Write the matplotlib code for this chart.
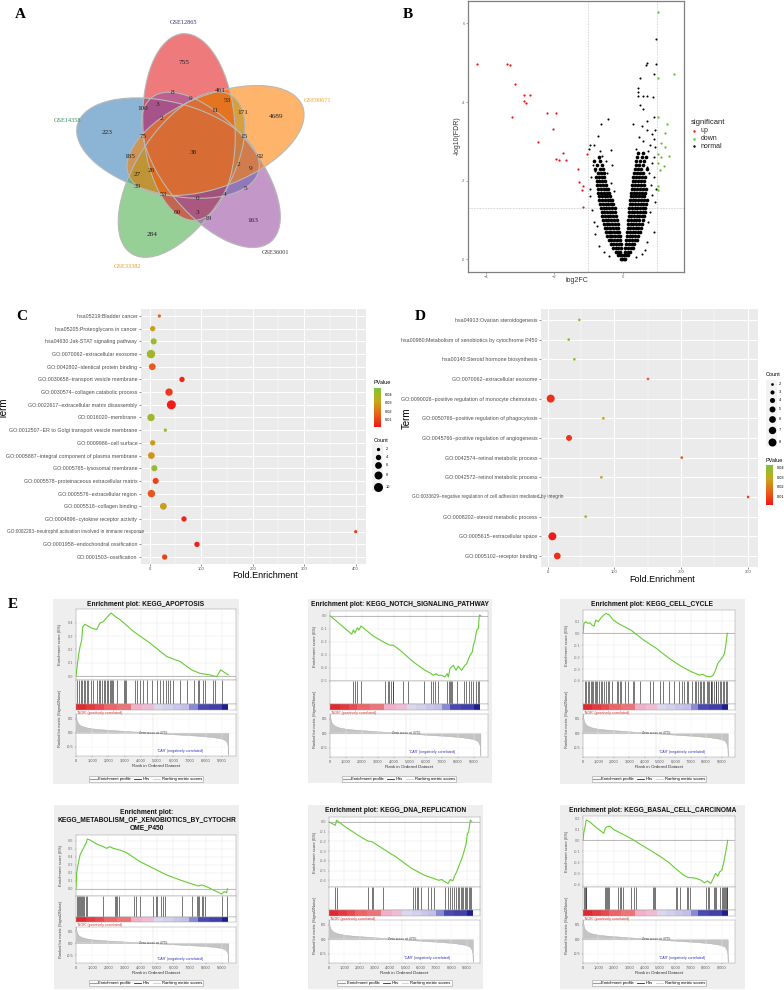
import matplotlib.pyplot as plt
import numpy as np
from matplotlib.patches import Ellipse, Rectangle
from matplotlib.colors import LinearSegmentedColormap, Normalize
from matplotlib.cm import ScalarMappable
from matplotlib.lines import Line2D
from matplotlib.transforms import Bbox, TransformedBbox, blended_transform_factory

plt.rcParams['font.family'] = ['Liberation Sans', 'DejaVu Sans']
SERIF = 'Liberation Serif'

# ---------------- A: venn ----------------
venn_names = ['GSE12865', 'GSE99671', 'GSE36001', 'GSE33382', 'GSE14358']
venn_colors = ['#E41A1C', '#FF7F00', '#984EA3', '#4DAF4A', '#377EB8']
venn_name_colors = ['#2B2B6B', '#F0A020', '#333333', '#E89A2A', '#2E8B57']
venn_counts = [755, 461, 8, 9, 53, 3, 100, 11, 171, 4689, 2, 223, 75, 15, 38,
               185, 92, 2, 27, 26, 9, 39, 5, 53, 0, 4, 60, 3, 19, 163, 284]
venn_count_xy = [(184, 63), (220, 90), (173, 92), (191, 99), (227, 101), (157, 104),
                 (143, 108), (215, 111), (243, 112), (276, 117), (161, 118), (107, 132),
                 (143, 137), (244, 136), (193, 153), (130, 157), (260, 157), (238, 164),
                 (137, 174), (151, 171), (251, 169), (137, 187), (245, 189), (163, 195),
                 (198, 199), (225, 195), (177, 213), (197, 212), (208, 219), (253, 220),
                 (152, 234)]
venn_name_xy = [(183, 23), (318, 101), (276, 253), (128, 267), (68, 120)]

# ---------------- B: volcano ----------------
up_fc = [-4.26, -3.39, -3.29, -3.14, -2.87, -2.71, -2.87, -2.83, -3.24, -2.22, -1.94, -2.05,
         -2.47, -1.74, -1.95, -1.86, -1.65, -1.30, -1.27, -1.19, -1.16, -1.17, -1.04]
up_fdr = [4.97, 4.97, 4.94, 4.45, 4.19, 4.19, 4.04, 3.97, 3.61, 3.71, 3.72, 3.32,
          2.98, 2.71, 2.55, 2.53, 2.53, 2.29, 1.97, 1.76, 1.87, 1.34, 2.68]
down_fc = [1.04, 1.50, 1.04, 1.02, 1.30, 1.24, 1.12, 1.24, 1.02, 1.35, 1.11, 1.04, 1.22, 1.09, 1.02, 1.02]
down_fdr = [6.28, 4.71, 4.60, 3.63, 3.45, 3.21, 2.97, 2.85, 2.68, 2.62, 2.61, 2.46, 2.38, 2.28, 1.87, 1.76]
normal_fc = [0.97, 0.71, 0.67, 0.97, 0.92, 0.51, 0.45, 0.46, 0.46, 0.58, 0.71, 0.87, 0.51, 0.58,
             0.90, 0.72, 0.30, 0.55, 0.95, 0.70, 0.85, 0.47, 0.92, 0.60, 0.80, 0.93, 0.38, 0.75,
             0.90, 0.85, 0.78, 0.92, 0.82, 0.95, 0.80, 0.75, 0.90, 0.70, 0.65, 0.55, 0.40, 0.85,
             0.70, 0.96,
             -0.64, -0.44, -0.71, -0.96, -0.85, -0.35, -0.98, -0.60, -0.70, -0.50, -0.88, -0.92,
             -0.95, -0.90, -0.85, -0.80, -0.68, -0.55, -0.40, -0.75, -0.95, -0.45, -0.35, -0.65,
             -0.30, -0.26, -0.82]
normal_fdr = [5.60, 4.99, 4.94, 4.97, 4.71, 4.61, 4.35, 4.25, 4.16, 4.16, 4.16, 4.14, 3.93, 3.82,
              3.63, 3.52, 3.45, 3.40, 3.30, 3.30, 3.20, 3.10, 3.05, 3.00, 2.90, 2.85, 2.80, 2.75,
              2.60, 2.45, 2.20, 2.10, 1.90, 1.45, 1.20, 0.95, 0.70, 0.45, 0.25, 0.15, 0.05, 1.65,
              2.35, 1.80,
              3.44, 3.58, 3.13, 2.90, 2.90, 2.79, 2.80, 2.62, 2.58, 2.50, 2.40, 2.10,
              1.60, 1.25, 0.95, 0.65, 0.35, 0.20, 0.08, 0.85, 1.80, 2.20, 1.95, 2.75,
              2.40, 1.75, 2.25]
# dense core of the "normal" genes, row by row
cloud_levels = [0.0, 0.1, 0.2, 0.3, 0.4, 0.5, 0.6, 0.7, 0.8, 0.9, 1.0, 1.1, 1.2, 1.3, 1.4,
                1.5, 1.6, 1.7, 1.8, 1.9, 2.0, 2.1, 2.2, 2.3, 2.4, 2.5, 2.6, 2.7]
cloud_left = [[-0.06, -0.02], [-0.14, -0.08, -0.03], [-0.21, -0.14, -0.07],
              [-0.29, -0.21, -0.13, -0.06], [-0.35, -0.27, -0.19, -0.11, -0.06],
              [-0.41, -0.33, -0.25, -0.17, -0.09], [-0.46, -0.38, -0.30, -0.22, -0.14, -0.08],
              [-0.49, -0.41, -0.33, -0.25, -0.17, -0.10], [-0.53, -0.45, -0.37, -0.29, -0.21, -0.13],
              [-0.55, -0.47, -0.39, -0.31, -0.23, -0.15], [-0.58, -0.50, -0.42, -0.34, -0.26, -0.18],
              [-0.60, -0.52, -0.44, -0.36, -0.28, -0.20], [-0.62, -0.54, -0.46, -0.38, -0.30, -0.22],
              [-0.64, -0.56, -0.48, -0.40, -0.32, -0.24], [-0.66, -0.58, -0.50, -0.42, -0.34, -0.27],
              [-0.68, -0.60, -0.52, -0.44, -0.36, -0.30], [-0.70, -0.61, -0.53, -0.45, -0.37],
              [-0.71, -0.63, -0.55, -0.47, -0.40], [-0.73, -0.64, -0.56, -0.48, -0.42],
              [-0.74, -0.66, -0.58, -0.50], [-0.76, -0.68, -0.60, -0.52], [-0.78, -0.70, -0.62, -0.55],
              [-0.72, -0.64, -0.56], [-0.80, -0.66, -0.58], [-0.74, -0.62], [-0.83, -0.66], [-0.70], []]
cloud_right = [[0.03, 0.08], [0.05, 0.11, 0.16], [0.07, 0.14, 0.22], [0.08, 0.16, 0.24, 0.31],
               [0.10, 0.18, 0.26, 0.34], [0.11, 0.19, 0.27, 0.35, 0.42], [0.12, 0.20, 0.28, 0.36, 0.44],
               [0.13, 0.21, 0.29, 0.37, 0.45, 0.51], [0.14, 0.22, 0.30, 0.38, 0.46, 0.54],
               [0.15, 0.23, 0.31, 0.39, 0.47, 0.56], [0.16, 0.24, 0.32, 0.40, 0.48, 0.58],
               [0.17, 0.25, 0.33, 0.41, 0.49, 0.57, 0.62], [0.18, 0.26, 0.34, 0.42, 0.50, 0.58, 0.64],
               [0.19, 0.27, 0.35, 0.43, 0.51, 0.59, 0.66], [0.20, 0.28, 0.36, 0.44, 0.52, 0.60, 0.68],
               [0.21, 0.29, 0.37, 0.45, 0.53, 0.61, 0.70], [0.23, 0.31, 0.39, 0.47, 0.55, 0.63],
               [0.24, 0.32, 0.40, 0.48, 0.56, 0.65], [0.26, 0.34, 0.42, 0.50, 0.58, 0.68],
               [0.28, 0.36, 0.44, 0.52, 0.61], [0.29, 0.37, 0.45, 0.53, 0.63],
               [0.31, 0.39, 0.47, 0.56, 0.66], [0.33, 0.42, 0.50, 0.60], [0.35, 0.44, 0.53, 0.70],
               [0.38, 0.47, 0.58], [0.40, 0.50, 0.62], [0.42, 0.55, 0.68], [0.45, 0.60]]

# ---------------- C / D: enrichment bubbles ----------------
c_terms = ['hsa05219:Bladder cancer', 'hsa05205:Proteoglycans in cancer',
           'hsa04630:Jak-STAT signaling pathway', 'GO:0070062~extracellular exosome',
           'GO:0042802~identical protein binding', 'GO:0030658~transport vesicle membrane',
           'GO:0030574~collagen catabolic process', 'GO:0022617~extracellular matrix disassembly',
           'GO:0016020~membrane', 'GO:0012507~ER to Golgi transport vesicle membrane',
           'GO:0009986~cell surface', 'GO:0005887~integral component of plasma membrane',
           'GO:0005765~lysosomal membrane', 'GO:0005578~proteinaceous extracellular matrix',
           'GO:0005576~extracellular region', 'GO:0005518~collagen binding',
           'GO:0004896~cytokine receptor activity',
           'GO:0002283~neutrophil activation involved in immune response',
           'GO:0001958~endochondral ossification', 'GO:0001503~ossification']
c_fold = [18.7, 5.8, 7.7, 2.5, 5.0, 62.7, 37.5, 42.0, 2.5, 30.4, 5.8, 3.2, 9.0, 11.6, 3.2,
          26.5, 66.6, 400.0, 91.8, 29.0]
c_count = [2, 4, 5, 9, 6, 4, 7, 10, 7, 2, 4, 6, 5, 5, 7, 6, 4, 2, 4, 4]
c_pval = [0.018, 0.030, 0.042, 0.040, 0.015, 0.004, 0.008, 0.002, 0.041, 0.044, 0.030, 0.028,
          0.042, 0.010, 0.014, 0.030, 0.004, 0.010, 0.003, 0.010]

d_terms = ['hsa04913:Ovarian steroidogenesis',
           'hsa00980:Metabolism of xenobiotics by cytochrome P450',
           'hsa00140:Steroid hormone biosynthesis', 'GO:0070062~extracellular exosome',
           'GO:0090026~positive regulation of monocyte chemotaxis',
           'GO:0050766~positive regulation of phagocytosis',
           'GO:0045766~positive regulation of angiogenesis', 'GO:0042574~retinal metabolic process',
           'GO:0042572~retinol metabolic process',
           'GO:0033629~negative regulation of cell adhesion mediated by integrin',
           'GO:0008202~steroid metabolic process', 'GO:0005615~extracellular space',
           'GO:0005102~receptor binding']
d_fold = [47.5, 31.5, 40.0, 150.4, 4.5, 83.5, 32.0, 201.0, 80.5, 300.5, 57.0, 7.0, 14.4]
d_count = [2, 2, 2, 2, 8, 2, 5, 2, 2, 2, 2, 8, 6]
d_pval = [0.040, 0.041, 0.040, 0.015, 0.006, 0.027, 0.007, 0.012, 0.028, 0.009, 0.039, 0.002, 0.005]

# ---------------- E: GSEA ----------------
gsea_titles = [['Enrichment plot: KEGG_APOPTOSIS'],
               ['Enrichment plot: KEGG_NOTCH_SIGNALING_PATHWAY'],
               ['Enrichment plot: KEGG_CELL_CYCLE'],
               ['Enrichment plot:', 'KEGG_METABOLISM_OF_XENOBIOTICS_BY_CYTOCHR', 'OME_P450'],
               ['Enrichment plot: KEGG_DNA_REPLICATION'],
               ['Enrichment plot: KEGG_BASAL_CELL_CARCINOMA']]
apop_rank = [0, 144, 247, 350, 412, 556, 761, 967, 1276, 1481, 1687, 1893, 2160, 2407, 2716,
             3539, 4568, 5597, 6420, 7140, 7654, 8272, 8683, 8930, 9403]
apop_es = [0.0, 0.147, 0.22, 0.27, 0.37, 0.39, 0.375, 0.36, 0.35, 0.40, 0.41, 0.44, 0.475, 0.45,
           0.425, 0.337, 0.248, 0.147, 0.109, 0.046, 0.02, 0.008, -0.005, 0.046, 0.008]
apop_hits = [82, 206, 288, 391, 494, 556, 700, 761, 905, 1029, 1276, 1399, 1481, 1584, 1728,
             1811, 1893, 1996, 2099, 2160, 2202, 2305, 2510, 2963, 3025, 3086, 3642, 3745, 3951,
             4156, 4362, 4671, 4979, 5185, 5391, 5556, 5658, 5802, 6008, 6420, 6831, 7305, 7551,
             7613, 7860, 7963, 8477, 8601, 8992]
notch_rank = [0, 1354, 1458, 1563, 1708, 1813, 1938, 2708, 3396, 3542, 3750, 3958, 4375, 5208,
              5938, 6250, 6458, 6625, 6771, 6979, 7188, 7333, 7396, 7500, 7708, 7875, 8021, 8229,
              8438, 8542, 8750, 8896, 8958, 9063, 9167, 9271, 9333, 9417]
notch_es = [0.0, -0.141, -0.11, -0.131, -0.092, -0.11, -0.079, -0.156, -0.205, -0.213, -0.226,
            -0.226, -0.264, -0.354, -0.418, -0.438, -0.456, -0.444, -0.456, -0.456, -0.469,
            -0.444, -0.469, -0.405, -0.379, -0.418, -0.387, -0.418, -0.379, -0.367, -0.303,
            -0.277, -0.226, -0.187, -0.11, -0.097, 0.005, 0.0]
notch_hits = [1414, 1559, 1705, 1933, 3451, 3617, 3701, 3784, 3909, 3950, 4574, 4886, 5884,
              6341, 6445, 6590, 6757, 7339, 7443, 7526, 7568, 7651, 7942, 8358, 8482, 8690,
              8794, 8940, 9106, 9231, 9293]
cycle_rank = [0, 62, 166, 311, 456, 581, 726, 830, 996, 1141, 1349, 1494, 1701, 1971, 2282,
              2697, 3112, 3942, 4772, 5602, 6432, 7054, 7573, 7780, 7988, 8299, 8465, 8610,
              8755, 8921, 9087, 9191, 9274, 9378]
cycle_es = [0.0, 0.083, 0.097, 0.083, 0.088, 0.069, 0.06, 0.111, 0.097, 0.125, 0.153, 0.167,
            0.153, 0.111, 0.083, 0.055, 0.027, -0.057, -0.127, -0.211, -0.281, -0.323, -0.351,
            -0.343, -0.36, -0.365, -0.351, -0.309, -0.253, -0.225, -0.197, -0.169, -0.099, 0.0]
cycle_hits = [104, 207, 311, 373, 519, 581, 664, 788, 871, 934, 1037, 1141, 1245, 1349, 1494,
              1618, 1701, 1867, 2178, 2282, 2386, 2490, 2697, 2905, 3216, 3320, 3734, 4357,
              4564, 4979, 5187, 5602, 5913, 6224, 6432, 6535, 6743, 6846, 7054, 7261, 7365,
              7469, 7573, 7676, 7780, 7884, 8050, 8133, 8195, 8299, 8340, 8402, 8506, 8610,
              8672, 8755, 8880, 8963, 9087, 9170, 9295, 9336]
xeno_rank = [0, 41, 103, 165, 247, 350, 453, 556, 617, 700, 864, 1276, 1687, 1893, 2099, 2305,
             2716, 3128, 3951, 4774, 5597, 6420, 7037, 7551, 7757, 8066, 8477, 8992, 9136, 9300,
             9342]
xeno_es = [0.0, 0.195, 0.277, 0.339, 0.421, 0.463, 0.504, 0.545, 0.566, 0.62, 0.608, 0.558,
           0.525, 0.504, 0.525, 0.504, 0.483, 0.45, 0.339, 0.256, 0.174, 0.112, 0.07, 0.037,
           0.05, 0.029, -0.012, -0.062, -0.033, -0.045, 0.004]
xeno_hits = [41, 103, 165, 247, 309, 370, 453, 514, 597, 700, 1687, 2407, 2469, 2510, 2675,
             3580, 3704, 3951, 4774, 4918, 4979, 5247, 5391, 5494, 6523, 7140, 7449, 7510,
             7613, 7757, 7860, 7963, 8992, 9342]
dna_rank = [0, 413, 496, 1074, 1901, 2521, 2831, 3347, 4380, 5413, 6240, 6860, 7169, 7376,
            7583, 7789, 7934, 8099, 8202, 8347, 8512, 8616, 8760, 8864, 8967, 9050, 9132, 9236,
            9339]
dna_es = [0.0, -0.034, 0.017, -0.051, -0.137, -0.195, -0.205, -0.257, -0.36, -0.479, -0.548,
          -0.582, -0.6, -0.592, -0.616, -0.634, -0.592, -0.606, -0.558, -0.514, -0.445, -0.404,
          -0.342, -0.284, -0.223, -0.12, -0.103, 0.017, 0.007]
dna_hits = [413, 496, 2521, 2789, 2872, 3554, 5517, 5620, 5723, 5826, 6033, 6446, 6653, 6860,
            7583, 7789, 7934, 8058, 8202, 8306, 8409, 8512, 8616, 8678, 8760, 8864, 8967, 9050,
            9132, 9236, 9298]
basal_rank = [0, 62, 145, 207, 415, 934, 1349, 1452, 1556, 1763, 1971, 2386, 2697, 3112, 3734,
              4357, 4979, 5602, 6017, 6535, 6846, 7158, 7365, 7676, 7884, 8091, 8299, 8465,
              8610, 8755, 8880, 9025, 9129, 9232, 9336, 9398]
basal_es = [0.0, 0.079, 0.13, 0.185, 0.17, 0.109, 0.064, 0.109, 0.124, 0.13, 0.1, 0.07, 0.048,
            0.018, -0.036, -0.088, -0.142, -0.203, -0.255, -0.315, -0.336, -0.339, -0.345,
            -0.361, -0.385, -0.367, -0.391, -0.345, -0.3, -0.324, -0.285, -0.27, -0.209,
            -0.133, -0.058, 0.0]
basal_hits = [62, 124, 166, 207, 1452, 1494, 1556, 1618, 1701, 2282, 2386, 2490, 2593, 3112,
              3320, 3423, 4564, 4606, 4668, 6017, 6120, 6328, 6743, 6846, 6950, 7988, 8091,
              8195, 8506, 8548, 8610, 8880, 9025, 9087, 9129, 9232, 9295, 9336, 9378]
gsea_es_ticks = [[0.0, 0.1, 0.2, 0.3, 0.4], [0.0, -0.1, -0.2, -0.3, -0.4, -0.5],
                 [0.1, 0.0, -0.1, -0.2, -0.3, -0.4], [0.0, 0.1, 0.2, 0.3, 0.4, 0.5, 0.6],
                 [0.0, -0.1, -0.2, -0.3, -0.4, -0.5, -0.6], [0.2, 0.1, 0.0, -0.1, -0.2, -0.3, -0.4]]
metric_rank = [0, 20, 60, 150, 300, 600, 1000, 1500, 2000, 3000, 4000, 4755, 5500, 6500, 7500,
               8300, 8900, 9200, 9320, 9380, 9400]
metric_val = [0.68, 0.55, 0.42, 0.33, 0.26, 0.20, 0.16, 0.13, 0.11, 0.07, 0.035, 0.0, -0.03,
              -0.065, -0.10, -0.14, -0.19, -0.25, -0.35, -0.50, -0.78]
zero_cross = 4755
cbar_edges = [0, 600, 1200, 1700, 2500, 3400, 4100, 4800, 5400, 6000, 6500, 7000, 7500, 8200,
              9000, 9400]
cbar_colors = ['#E0282E', '#E23A40', '#E54A50', '#EA6468', '#EC7378', '#F2AFC8', '#F0BCD4',
               '#D9D8EF', '#D2D1EC', '#C9C7E9', '#C2C0E6', '#8A8AD2', '#4A4AAE', '#4040A8',
               '#1E1E8C']

# ================= drawing =================
W, H = 784, 990
fig = plt.figure(figsize=(W / 100, H / 100), dpi=100)


def px_axes(x0, y0, x1, y1, **kw):
    return fig.add_axes([x0 / W, 1 - y1 / H, (x1 - x0) / W, (y1 - y0) / H], **kw)


bg = px_axes(0, 0, W, H, zorder=-10)
bg.set_xlim(0, W); bg.set_ylim(H, 0); bg.axis('off')
ov = px_axes(0, 0, W, H, zorder=10)
ov.set_xlim(0, W); ov.set_ylim(H, 0); ov.axis('off')

for lab, x, y in [('A', 20, 15), ('B', 408, 15), ('C', 22, 316), ('D', 420, 316), ('E', 13, 605)]:
    ov.text(x, y, lab, fontsize=11, fontweight='bold', family=SERIF, ha='center', va='center')

# ---- A
axA = px_axes(0, 0, 400, 280)
axA.set_xlim(0, 400); axA.set_ylim(280, 0); axA.axis('off')
c0 = np.array([193.0, 152.0])
off0 = np.array([-4.0, -25.0])
ang0 = -93.7
order = [4, 3, 0, 2, 1]  # blue, green, red, purple, orange
geo = []
for k in range(5):
    t = np.deg2rad(72 * k)
    rot = np.array([[np.cos(t), -np.sin(t)], [np.sin(t), np.cos(t)]])
    geo.append((c0 + rot @ off0, ang0 + 72 * k))
for k in order:
    cen, ang = geo[k]
    axA.add_patch(Ellipse(cen, 187, 92, angle=ang, facecolor=venn_colors[k], alpha=0.58,
                          edgecolor='none'))
for k in range(5):
    cen, ang = geo[k]
    axA.add_patch(Ellipse(cen, 187, 92, angle=ang, facecolor='none', edgecolor='#B8B8B8', lw=0.8))
for n, (x, y) in zip(venn_counts, venn_count_xy):
    axA.text(x, y, str(n), ha='center', va='center', fontsize=5.2, family=SERIF, color='#222222')
for name, col, (x, y) in zip(venn_names, venn_name_colors, venn_name_xy):
    axA.text(x, y, name, ha='center', va='center', fontsize=4.5, family=SERIF, color=col)

# ---- B
axB = px_axes(468, 1, 684, 272)
cx = [x for xs in cloud_left + cloud_right for x in xs]
cy = [lv for lv, xs in zip(cloud_levels + cloud_levels, cloud_left + cloud_right) for _ in xs]
axB.scatter(cx, cy, s=7, color='black', linewidths=0, zorder=2)
axB.scatter(normal_fc, normal_fdr, s=2.2, color='black', linewidths=0, zorder=2)
axB.scatter(up_fc, up_fdr, s=2.5, color='#F01010', linewidths=0, zorder=3)
axB.scatter(down_fc, down_fdr, s=2.5, color='#55C020', linewidths=0, zorder=3)
for xv in (-1, 1):
    axB.axvline(xv, color='#BBBBBB', lw=0.4, ls=(0, (3, 2)), zorder=1)
axB.axhline(-np.log10(0.05), color='#BBBBBB', lw=0.4, ls=(0, (3, 2)), zorder=1)
axB.set_xlim(-4.52, 1.79); axB.set_ylim(-0.32, 6.57)
axB.set_xticks([-4, -2, 0]); axB.set_yticks([0, 2, 4, 6])
axB.tick_params(labelsize=3, colors='#666666', length=1.5, width=0.4, pad=1)
for sp in axB.spines.values():
    sp.set_color('#7F7F7F'); sp.set_linewidth(0.9)
ov.text(457, 136, '-log10(FDR)', rotation=90, ha='center', va='center', fontsize=5, color='#333333')
ov.text(577, 281, 'log2FC', ha='center', va='center', fontsize=5, color='#333333')
ov.text(691, 122.7, 'significant', ha='left', va='center', fontsize=5.5, color='#222222')
for lab, col, y in [('up', '#F01010', 131), ('down', '#55C020', 138.7), ('normal', 'black', 146)]:
    ov.scatter([694.5], [y], s=3, color=col, linewidths=0)
    ov.text(700.5, y, lab, ha='left', va='center', fontsize=5, color='#222222')

# ---- C / D
pv_cmap = LinearSegmentedColormap.from_list('pv', ['#F01818', '#E8621A', '#C6A91A', '#7CC43A'])


def size_c(c):
    return 0.5184 * (10.9 + (c - 2) * 8.76)


def size_d(c):
    return 0.5184 * (7.3 + (c - 2) * 9.45)


def bubble(ax, terms, fold, count, pval, norm, size_fn, xlim, xticks, minors, ylim, long_idx, long_end):
    n = len(terms)
    ypos = np.arange(n)[::-1]
    ax.set_facecolor('#EBEBEB')
    ax.scatter(fold, ypos, s=[size_fn(c) for c in count], c=pval, cmap=pv_cmap, norm=norm,
               linewidths=0, zorder=3)
    ax.set_xlim(*xlim); ax.set_ylim(*ylim)
    ax.set_xticks(xticks); ax.set_xticks(minors, minor=True)
    labels = list(terms)
    labels[long_idx] = ''
    ax.set_yticks(ypos); ax.set_yticklabels(labels)
    ax.tick_params(labelsize=3.8, labelcolor='#4D4D4D', length=1.5, width=0.4, color='#333333', pad=1)
    ax.tick_params(axis='x', labelsize=3)
    ax.tick_params(which='minor', length=0)
    for sp in ax.spines.values():
        sp.set_visible(False)
    ax.grid(True, which='major', color='white', lw=0.7)
    ax.grid(True, which='minor', axis='x', color='white', lw=0.35)
    ax.set_axisbelow(True)
    tr = blended_transform_factory(ax.transAxes, ax.transData)
    t = ax.text(long_end, ypos[long_idx], terms[long_idx], transform=tr, ha='right', va='center',
                fontsize=3.4, color='#4D4D4D', zorder=4)
    return t


axC = px_axes(140.7, 309.3, 366, 564)
normC = Normalize(0.001, 0.048)
bubble(axC, c_terms, c_fold, c_count, c_pval, normC, size_c, (-17.5, 420), [0, 100, 200, 300, 400],
       [50, 150, 250, 350], (-0.55, 19.53), 17, (144 - 140.7) / (366 - 140.7))
ov.text(4, 408, 'Term', rotation=90, ha='center', va='center', fontsize=7)
ov.text(265, 576, 'Fold.Enrichment', ha='center', va='center', fontsize=6.5)

axD = px_axes(540.7, 309.3, 758.3, 567)
normD = Normalize(0.0012, 0.0428)
tD = bubble(axD, d_terms, d_fold, d_count, d_pval, normD, size_d, (-10.5, 315.8), [0, 100, 200, 300],
            [50, 150, 250], (-0.56, 12.54), 9, (563 - 540.7) / (758.3 - 540.7))
clipD = TransformedBbox(Bbox.from_extents(400 / W, 0, 1, 1), fig.transFigure)
for lab in axD.get_yticklabels() + [tD]:
    lab.set_clip_box(clipD); lab.set_clip_on(True)
ov.text(407, 418, 'Term', rotation=90, ha='center', va='center', fontsize=7)
ov.text(662, 579, 'Fold.Enrichment', ha='center', va='center', fontsize=6.5)

# legends C
ov.text(374, 383, 'PValue', ha='left', va='center', fontsize=4)
caxC = px_axes(374, 388, 381, 427)
cbC = fig.colorbar(ScalarMappable(norm=normC, cmap=pv_cmap), cax=caxC)
ov.text(374, 440, 'Count', ha='left', va='center', fontsize=4)
ov.add_patch(Rectangle((372.5, 444), 11, 47, facecolor='#F2F2F2', edgecolor='none'))
for cnt, y in zip([2, 4, 6, 8, 10], [449, 457, 465.3, 475, 486.7]):
    ov.scatter([378], [y], s=size_c(cnt), color='black', linewidths=0)
    ov.text(386, y, str(cnt), ha='left', va='center', fontsize=2.8)
# legends D
ov.text(766, 375, 'Count', ha='left', va='center', fontsize=4)
ov.add_patch(Rectangle((766, 379.5), 11, 67, facecolor='#F2F2F2', edgecolor='none'))
for cnt, y in zip([2, 3, 4, 5, 6, 7, 8], [384, 392, 400, 409, 419, 429.7, 441.7]):
    ov.scatter([771.7], [y], s=size_d(cnt), color='black', linewidths=0)
    ov.text(779, y, str(cnt), ha='left', va='center', fontsize=2.8)
ov.text(766, 460, 'PValue', ha='left', va='center', fontsize=4)
caxD = px_axes(766, 465, 773, 505)
cbD = fig.colorbar(ScalarMappable(norm=normD, cmap=pv_cmap), cax=caxD)
for cb in (cbC, cbD):
    cb.set_ticks([0.01, 0.02, 0.03, 0.04])
    cb.set_ticklabels(['0.01', '0.02', '0.03', '0.04'])
    cb.ax.tick_params(labelsize=2.8, length=1.5, width=0.4, color='white', pad=1)
    cb.outline.set_visible(False)

# ---- E
gsea_layout = [
    dict(box=(53, 599, 239, 784), title_y=[604], es=(76, 609, 236, 680), hits=(76, 680, 236, 704),
         cbar=(76, 704, 236, 710), rank=(76, 714, 236, 756), leg_y=779, ylim=(-0.03, 0.505)),
    dict(box=(308, 599, 492, 783), title_y=[604], es=(330, 611, 488, 681), hits=(330, 681, 488, 704),
         cbar=(330, 704, 488, 710), rank=(330, 714, 488, 757), leg_y=779, ylim=(-0.5, 0.036)),
    dict(box=(560, 599, 745, 784), title_y=[604], es=(583, 610, 735, 681), hits=(583, 681, 735, 704),
         cbar=(583, 704, 735, 710), rank=(583, 714, 735, 757), leg_y=779, ylim=(-0.4, 0.195)),
    dict(box=(54, 805, 239, 989), title_y=[812, 820, 828], es=(76, 835, 236, 896),
         hits=(76, 896, 236, 917), cbar=(76, 917, 236, 922), rank=(76, 927, 236, 963), leg_y=983,
         ylim=(-0.087, 0.67)),
    dict(box=(308, 805, 483, 989), title_y=[810], es=(329, 817, 480, 887), hits=(329, 887, 480, 910),
         cbar=(329, 910, 480, 916), rank=(329, 920, 480, 963), leg_y=983, ylim=(-0.669, 0.051)),
    dict(box=(560, 805, 745, 989), title_y=[810], es=(583, 816, 735, 887), hits=(583, 887, 735, 910),
         cbar=(583, 910, 735, 916), rank=(583, 920, 735, 963), leg_y=983, ylim=(-0.422, 0.221)),
]
gsea_data = [(apop_rank, apop_es, apop_hits), (notch_rank, notch_es, notch_hits),
             (cycle_rank, cycle_es, cycle_hits), (xeno_rank, xeno_es, xeno_hits),
             (dna_rank, dna_es, dna_hits), (basal_rank, basal_es, basal_hits)]
XMAX = 9875
GREEN = '#66CC33'


def fmt(t):
    s = f'{t:.1f}'
    return '0.0' if s == '-0.0' else s


def frame(ax):
    for sp in ax.spines.values():
        sp.set_color('#A0A0A0'); sp.set_linewidth(0.35)


for lay, title, (rk, es, hits), ticks in zip(gsea_layout, gsea_titles, gsea_data, gsea_es_ticks):
    bx0, by0, bx1, by1 = lay['box']
    bg.add_patch(Rectangle((bx0, by0), bx1 - bx0, by1 - by0, facecolor='#EEEEEE', edgecolor='none'))
    ex0, ey0, ex1, _ = lay['es']
    rb = lay['rank'][3]
    bg.add_patch(Rectangle((ex0, ey0), ex1 - ex0, rb - ey0, facecolor='white', edgecolor='none'))
    for i, line in enumerate(title):
        ov.text((bx0 + bx1) / 2, lay['title_y'][i], line, ha='center', va='center', fontsize=4.8,
                fontweight='bold', color='#111111')

    ax = px_axes(*lay['es'])
    ax.plot(rk, es, color=GREEN, lw=0.8, zorder=3)
    ax.axhline(0, color='#A0A0A0', lw=0.5, zorder=2)
    ax.set_xlim(0, XMAX); ax.set_ylim(*lay['ylim'])
    ax.set_yticks(ticks); ax.set_yticklabels([fmt(t) for t in ticks])
    ax.set_xticks(range(0, 10000, 1000))
    ax.tick_params(labelbottom=False, length=1, width=0.3, labelsize=2.8, colors='#777777', pad=1)
    ax.grid(color='#E6E6E6', lw=0.3)
    frame(ax)
    ov.text(bx0 + 7, (ey0 + lay['es'][3]) / 2, 'Enrichment score (ES)', rotation=90, ha='center',
            va='center', fontsize=3, color='#444444')

    axh = px_axes(*lay['hits'])
    axh.vlines(hits, 0, 1, color='#2A2A2A', lw=0.45)
    axh.set_xlim(0, XMAX); axh.set_ylim(0, 1)
    axh.set_xticks([]); axh.set_yticks([])
    frame(axh)

    axc = px_axes(*lay['cbar'])
    for a, b, col in zip(cbar_edges[:-1], cbar_edges[1:], cbar_colors):
        axc.axvspan(a, b, color=col, lw=0)
    axc.set_xlim(0, XMAX); axc.set_ylim(0, 1)
    axc.set_xticks([]); axc.set_yticks([])
    frame(axc)
    ov.text(ex0 + 1, lay['cbar'][3] + 2.6, "'NOR' (positively correlated)", ha='left', va='center',
            fontsize=2.6, color='#E03030')

    axr = px_axes(*lay['rank'])
    axr.fill_between(metric_rank, metric_val, 0, color='#C4C4C4', lw=0.3, edgecolor='#AAAAAA')
    axr.axvline(zero_cross, color='#AAAAAA', lw=0.3, ls=(0, (1, 1)))
    axr.text(zero_cross, 0, f'Zero cross at {zero_cross}', ha='center', va='center', fontsize=2.4,
             color='#444444')
    axr.text(6400, -0.66, "'CAR' (negatively correlated)", ha='center', va='center', fontsize=2.6,
             color='#3030C0')
    axr.set_xlim(0, XMAX); axr.set_ylim(-0.82, 0.67)
    axr.set_yticks([0.5, 0.0, -0.5]); axr.set_yticklabels(['0.5', '0.0', '-0.5'])
    xt = list(range(0, 10000, 1000))
    axr.set_xticks(xt); axr.set_xticklabels([f'{v:,}' for v in xt])
    axr.tick_params(length=1, width=0.3, labelsize=2.8, colors='#555555', pad=1)
    axr.set_xlabel('Rank in Ordered Dataset', fontsize=3.2, labelpad=1, color='#333333')
    axr.grid(color='#EEEEEE', lw=0.3)
    frame(axr)
    ov.text(bx0 + 7, (lay['hits'][1] + rb) / 2, 'Ranked list metric (Signal2Noise)', rotation=90,
            ha='center', va='center', fontsize=2.8, color='#444444')

    handles = [Line2D([], [], color=GREEN, lw=0.8), Line2D([], [], color='#2A2A2A', lw=0.6),
               Line2D([], [], color='#CCCCCC', lw=0.6)]
    leg = axr.legend(handles, ['Enrichment profile', 'Hits', 'Ranking metric scores'], loc='center',
                     bbox_to_anchor=(((ex0 + ex1) / 2 - 10) / W, 1 - lay['leg_y'] / H),
                     bbox_transform=fig.transFigure, ncol=3, fontsize=3, frameon=True,
                     fancybox=False, edgecolor='#888888', handlelength=1.6, columnspacing=0.8,
                     handletextpad=0.4, borderpad=0.35)
    leg.get_frame().set_linewidth(0.4)

plt.savefig('out.png', dpi=100)
